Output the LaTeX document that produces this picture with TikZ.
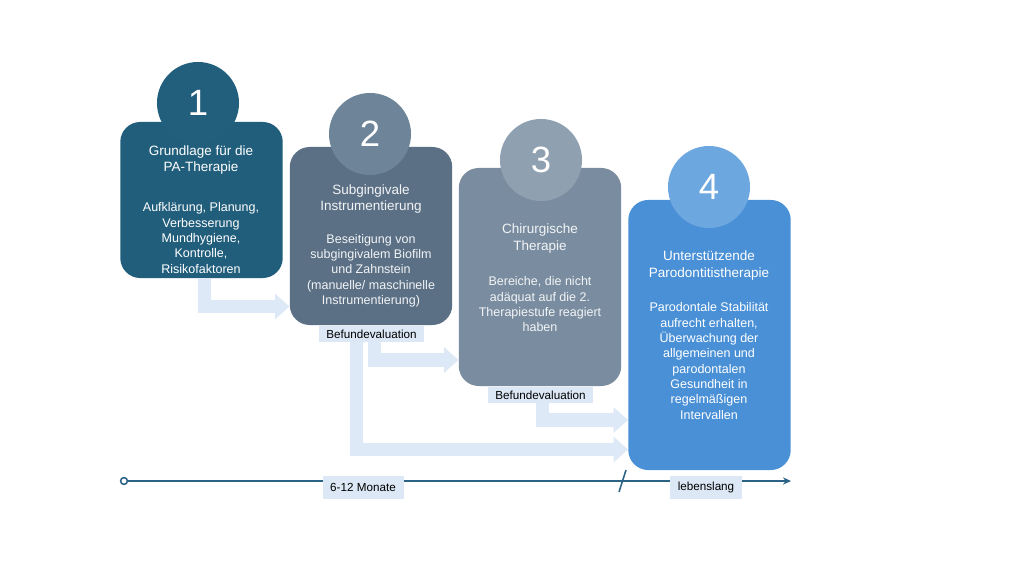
\documentclass[tikz,border=0pt]{standalone}
\usepackage{fontspec}
\setmainfont{Liberation Sans}
\usetikzlibrary{arrows.meta}
\definecolor{cA}{HTML}{215E7C}
\definecolor{cAc}{HTML}{225F7D}
\definecolor{cB}{HTML}{5B7085}
\definecolor{cBc}{HTML}{6E8499}
\definecolor{cC}{HTML}{7A8DA0}
\definecolor{cCc}{HTML}{8FA0B0}
\definecolor{cD}{HTML}{4A90D6}
\definecolor{cDc}{HTML}{6CA7E0}
\definecolor{flowc}{HTML}{DDE9F6}
\definecolor{tagc}{HTML}{DCE8F5}
\definecolor{linec}{HTML}{2B6386}
\definecolor{greytxt}{HTML}{F2F4F6}
\tikzset{
  stepbox/.style={rectangle, rounded corners=0.5cm, minimum width=4.06cm, inner sep=0pt},
  numcirc/.style={circle, minimum size=2.05cm, inner sep=0pt, text=white, font=\fontsize{26}{30}\selectfont},
  ttl/.style={text=white, align=center, font=\fontsize{9.6}{11.4}\selectfont, inner sep=0pt},
  bdy/.style={text=white, align=center, font=\fontsize{8.9}{10.9}\selectfont, inner sep=0pt},
  tag/.style={fill=tagc, text=black, font=\fontsize{8.3}{9.5}\selectfont, inner xsep=5.5pt, inner ysep=2.5pt},
  flow/.style={draw=flowc, line width=0.325cm, -{Triangle[width=0.62cm,length=0.36cm]}},
}
\begin{document}
\begin{tikzpicture}[x=0.025cm, y=-0.025cm]
\useasboundingbox[fill=white] (0,0) rectangle (1024,576);
% flow start points
\coordinate (fA0) at (204,278);
\coordinate (fB0) at (374,341);
\coordinate (fC0) at (356.5,341);
\coordinate (fD0) at (542.5,402);
% boxes
\node[stepbox, fill=cA, minimum height=3.9cm] (b1) at (201.5,200) {};
\node[stepbox, fill=cB, minimum height=4.45cm] (b2) at (371,236) {};
\node[stepbox, fill=cC, minimum height=5.45cm] (b3) at (540,277) {};
\node[stepbox, fill=cD, minimum height=6.75cm] (b4) at (709.5,335) {};
% tags
\node[tag] (t2) at (371.5,334) {Befundevaluation};
\node[tag] (t3) at (540.5,395) {Befundevaluation};
% flows
\draw[flow] (fA0) |- (b2.west |- 0,306.5);
\draw[flow] (t2.south -| fB0) |- (b3.west |- 0,360);
\draw[flow] (t2.south -| fC0) |- (b4.west |- 0,449.5);
\draw[flow] (t3.south -| fD0) |- (b4.west |- 0,420);
% circles
\node[numcirc, fill=cAc] (c1) at (198,103) {1};
\node[numcirc, fill=cBc] (c2) at (370,134) {2};
\node[numcirc, fill=cCc] (c3) at (541,160) {3};
\node[numcirc, fill=cDc] (c4) at (709,187) {4};
% texts
\node[ttl] (h1) at (201,160) {Grundlage für die\\PA-Therapie};
\node[bdy] (d1) at (201,238) {Aufklärung, Planung,\\Verbesserung\\Mundhygiene,\\Kontrolle,\\Risikofaktoren};
\node[ttl, text=greytxt] (h2) at (371,199) {Subgingivale\\Instrumentierung};
\node[bdy, text=greytxt] (d2) at (371,270.5) {Beseitigung von\\subgingivalem Biofilm\\und Zahnstein\\(manuelle/ maschinelle\\Instrumentierung)};
\node[ttl, text=greytxt] (h3) at (540,238.5) {Chirurgische\\Therapie};
\node[bdy, text=greytxt] (d3) at (540,304.5) {Bereiche, die nicht\\adäquat auf die 2.\\Therapiestufe reagiert\\haben};
\node[ttl] (h4) at (709,265.5) {Unterstützende\\Parodontitistherapie};
\node[bdy] (d4) at (709,361) {Parodontale Stabilität\\aufrecht erhalten,\\Überwachung der\\allgemeinen und\\parodontalen\\Gesundheit in\\regelmäßigen\\Intervallen};
% timeline
\node[circle, draw=linec, line width=1.1pt, inner sep=0pt, minimum size=0.17cm] (st) at (124,481) {};
\coordinate (en) at (791,481);
\draw[linec, line width=1.1pt, -{Stealth[length=0.2cm,width=0.18cm]}] (st) -- (en);
\coordinate (s1) at (619,492);
\coordinate (s2) at (626,470);
\draw[linec, line width=1.1pt] (s1) -- (s2);
\node[tag, minimum width=2.02cm, minimum height=0.57cm] (m1) at (363,487.5) {6-12 Monate};
\node[tag, minimum width=1.8cm, minimum height=0.57cm] (m2) at (706,487.5) {lebenslang};
\end{tikzpicture}
\end{document}
